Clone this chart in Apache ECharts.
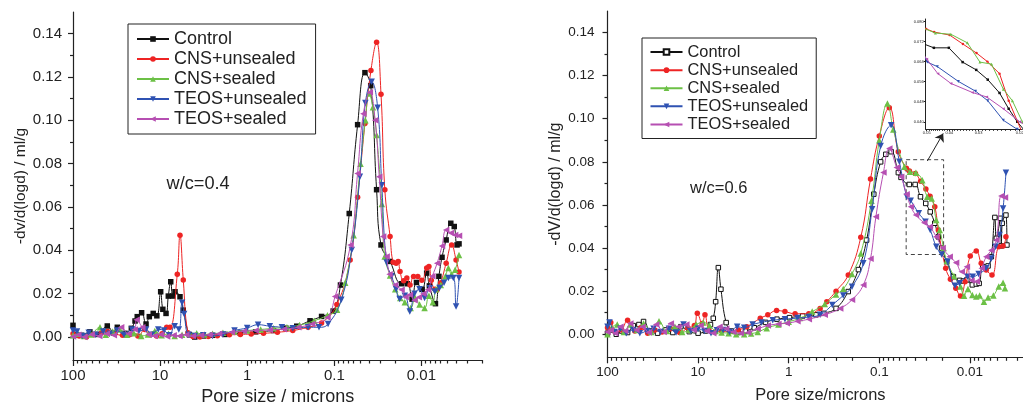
<!DOCTYPE html>
<html><head><meta charset="utf-8">
<script src="https://cdn.jsdelivr.net/npm/echarts@6/dist/echarts.min.js"></script>
<style>html,body{margin:0;padding:0;background:#fff}#c{width:1023px;height:402px}</style>
</head><body><div id="c"></div>
<script>
// ---------- labels / ticks ----------
const seriesNames = ['Control','CNS+unsealed','CNS+sealed','TEOS+unsealed','TEOS+sealed'];
const xMajorTicks = [100, 10, 1, 0.1, 0.01];
const yTickLabels = [0, 0.02, 0.04, 0.06, 0.08, 0.10, 0.12, 0.14];
const yMinorTicks = [0.01, 0.03, 0.05, 0.07, 0.09, 0.11, 0.13];
const insetXLabels = [0.05, 0.04, 0.03, 0.02];
const insetYLabels = [0.04, 0.048, 0.056, 0.064, 0.072, 0.08];
const panelTitles = ['w/c=0.4', 'w/c=0.6'];
const xMin = 0.002, xMax = 100;
// zoom window shown in the inset (pore size, dV/dlogd)
const insetWindow = {dHi: 0.0505, dLo: 0.0195, vLo: 0.037, vHi: 0.081};
const arrowFrom = [0.0295, 0.0804], arrowTo = [0.0197, 0.0932];

// ---------- data: [pore size (microns), -dV/d(logd) (ml/g)] ----------
const wc4Control = [[100,0.0054],[92,0.001],[80,0.0008],[64,0.0024],[53,0.0012],[40.4,0.0051],[34,0.0018],[31,0.0045],[25.3,0.0017],[21.4,0.004],[19.4,0.0074],[18.3,0.0094],[16.3,0.0112],[14.5,0.006],[13.3,0.0094],[12,0.0109],[10.9,0.0098],[9.85,0.0209],[9.3,0.0128],[8.55,0.0109],[8.05,0.0189],[7.55,0.0255],[7.16,0.0189],[6.74,0.0209],[5.91,0.0186],[5.42,0.0124],[4.6,0.001],[4,0],[3.2,0.0005],[2.5,0.0008],[1.8,0.0012],[1.2,0.0018],[0.8,0.0024],[0.5,0.003],[0.36,0.0041],[0.27,0.005],[0.19,0.0075],[0.14,0.0095],[0.103,0.012],[0.085,0.024],[0.0674,0.057],[0.054,0.098],[0.0445,0.122],[0.0382,0.116],[0.0327,0.068],[0.0291,0.0425],[0.0229,0.0349],[0.0169,0.0246],[0.0145,0.0246],[0.0128,0.0175],[0.0114,0.0252],[0.0098,0.022],[0.0087,0.0295],[0.0081,0.0236],[0.0069,0.0154],[0.0063,0.028],[0.0058,0.0368],[0.0052,0.0448],[0.0046,0.0525],[0.0042,0.051],[0.0039,0.0425],[0.0037,0.043]];
const wc4CnsUnsealed = [[100,0.0015],[85,0.0005],[70,0],[58,0.0012],[47,0.002],[40,0.0025],[33,0.0015],[27,0.0008],[22,0.0012],[18,0.0005],[15,0.0035],[13,0.001],[11,0.0005],[9.5,0.0015],[8.4,0.0045],[7.7,0.0045],[6.35,0.029],[5.91,0.047],[5.42,0.0263],[4.8,0.002],[4.2,0.0003],[3.5,0],[2.8,0.0003],[2.2,0.0006],[1.6,0.001],[1.2,0.0012],[0.9,0.0014],[0.65,0.0017],[0.45,0.0022],[0.3,0.003],[0.2,0.0045],[0.14,0.0065],[0.0935,0.015],[0.0658,0.0356],[0.054,0.0645],[0.0445,0.0986],[0.038,0.123],[0.0327,0.136],[0.0291,0.112],[0.0263,0.068],[0.0229,0.0464],[0.0211,0.0345],[0.0195,0.034],[0.0185,0.0348],[0.0176,0.0302],[0.016,0.026],[0.0147,0.0272],[0.0135,0.024],[0.0123,0.0279],[0.011,0.0279],[0.0099,0.0262],[0.0087,0.0318],[0.0082,0.0325],[0.0077,0.0262],[0.007,0.022],[0.0066,0.0218],[0.006,0.025],[0.0052,0.0341],[0.0045,0.0425],[0.004,0.0356],[0.0037,0.03]];
const wc4CnsSealed = [[100,0.0008],[88,0.0015],[75,0.0005],[62,0.0012],[49,0.0045],[42,0.001],[35,0.0025],[29,0.0035],[24,0.001],[20,0.0018],[16.5,0.0005],[13.8,0.0012],[11.5,0.0028],[9.6,0.0008],[8,0.0015],[6.8,0.0005],[5.6,0.001],[4.6,0.0015],[3.8,0.0018],[3.1,0.0012],[2.5,0.0015],[1.9,0.002],[1.4,0.0025],[1,0.003],[0.7,0.0035],[0.5,0.004],[0.35,0.0045],[0.25,0.0055],[0.17,0.0075],[0.12,0.01],[0.093,0.0126],[0.075,0.025],[0.06,0.047],[0.05,0.08],[0.044,0.1],[0.04,0.1124],[0.036,0.106],[0.0327,0.0932],[0.0285,0.0614],[0.0264,0.0372],[0.0229,0.0284],[0.02,0.022],[0.0175,0.018],[0.0155,0.016],[0.0133,0.0134],[0.0118,0.018],[0.0105,0.015],[0.0092,0.0134],[0.0082,0.019],[0.0074,0.016],[0.0068,0.022],[0.006,0.024],[0.0053,0.028],[0.0049,0.0318],[0.0045,0.029],[0.0041,0.031],[0.0037,0.0379]];
const wc4TeosUnsealed = [[100,0.003],[90,0.0025],[78,0.0005],[66,0.002],[55,0.001],[45,0.0025],[38,0.0015],[31,0.003],[26,0.001],[21,0.0035],[17.5,0.0028],[14.5,0.0035],[12.5,0.001],[10.5,0.0035],[9,0.003],[7.8,0.0008],[6.8,0.005],[6.1,0.0035],[5.6,0.0158],[5.3,0.0106],[4.7,0.001],[4,0.0005],[3.2,0.0008],[2.5,0.0005],[1.9,0.0012],[1.4,0.003],[1,0.0042],[0.75,0.0057],[0.55,0.005],[0.4,0.0045],[0.3,0.004],[0.2,0.0045],[0.15,0.0045],[0.118,0.006],[0.0831,0.0172],[0.0631,0.0402],[0.0509,0.074],[0.044,0.108],[0.0373,0.1178],[0.0318,0.1058],[0.0285,0.07],[0.0251,0.0344],[0.022,0.028],[0.0195,0.022],[0.0178,0.0175],[0.0155,0.019],[0.0136,0.0118],[0.012,0.02],[0.0105,0.022],[0.0092,0.018],[0.008,0.0225],[0.007,0.021],[0.0062,0.0226],[0.0055,0.025],[0.0049,0.0272],[0.0043,0.0272],[0.004,0.0141],[0.0037,0.0272]];
const wc4TeosSealed = [[100,0.0003],[87,0.001],[74,0],[61,0.0012],[50,0.0005],[41,0.0015],[34,0.0008],[28,0.0045],[23,0.0015],[19.5,0.0035],[18.6,0.008],[16,0.0045],[13.5,0.0012],[11.5,0.0005],[9.8,0.0012],[8.3,0.0003],[7,0.0008],[6,0.0005],[5,0.001],[4.2,0.0005],[3.4,0.0008],[2.7,0.001],[2.1,0.0015],[1.5,0.0022],[1.1,0.0027],[0.8,0.003],[0.55,0.0033],[0.38,0.0036],[0.26,0.0045],[0.18,0.006],[0.12,0.009],[0.098,0.0187],[0.0652,0.0425],[0.0541,0.0755],[0.0464,0.103],[0.0391,0.113],[0.034,0.1],[0.0305,0.074],[0.0275,0.0464],[0.0251,0.0372],[0.0232,0.029],[0.02,0.024],[0.0169,0.0218],[0.0152,0.0185],[0.0136,0.0195],[0.012,0.017],[0.0107,0.0184],[0.0095,0.02],[0.0084,0.0218],[0.0075,0.028],[0.0066,0.0341],[0.0058,0.042],[0.0052,0.0494],[0.0046,0.048],[0.0041,0.0471],[0.0037,0.0467]];

const wc6Control = [[100,0.0005],[90,0.002],[80,0],[70,0.0015],[60,0.0008],[52,0.004],[45,0.0045],[40,0.0059],[34,0.0015],[28,0.0005],[23,0.002],[19,0.0008],[15.5,0.0035],[12.5,0.0012],[10,0.0005],[8.3,0.0015],[7.3,0.0045],[6.8,0.0074],[6.4,0.0151],[5.98,0.0309],[5.6,0.0209],[4.9,0.0054],[4.3,0.0015],[3.6,0.0008],[3,0.0015],[2.4,0.003],[1.8,0.0055],[1.35,0.007],[0.98,0.0077],[0.7,0.0085],[0.5,0.009],[0.41,0.0097],[0.3,0.012],[0.22,0.0198],[0.17,0.03],[0.138,0.0437],[0.115,0.065],[0.0966,0.08],[0.0847,0.0835],[0.074,0.0847],[0.0616,0.075],[0.0576,0.0728],[0.0466,0.0695],[0.0402,0.0695],[0.0351,0.0638],[0.0307,0.0607],[0.0274,0.0568],[0.0244,0.0515],[0.0223,0.0452],[0.0205,0.04],[0.018,0.0337],[0.0152,0.0267],[0.013,0.025],[0.0118,0.0247],[0.0108,0.0252],[0.0094,0.0229],[0.0085,0.0233],[0.0079,0.0236],[0.0072,0.0314],[0.0063,0.0317],[0.0058,0.036],[0.0053,0.0542],[0.0051,0.0445],[0.0046,0.0538],[0.0045,0.041],[0.0044,0.0515],[0.004,0.0553],[0.0039,0.0414]];
const wc6CnsUnsealed = [[100,0.003],[92,0.0055],[82,0.001],[70,0.002],[60,0.0065],[50,0.0015],[43,0.003],[36,0.0005],[30,0.002],[25,0.001],[20,0.0025],[16,0.0008],[13,0.003],[11,0.004],[10.2,0.0097],[9,0.005],[8.4,0.009],[7.6,0.002],[6.5,0.001],[5.5,0.0015],[4.5,0.001],[3.6,0.002],[2.9,0.0035],[2.06,0.0074],[1.7,0.009],[1.36,0.011],[1.1,0.0105],[0.85,0.0095],[0.6,0.0095],[0.45,0.012],[0.38,0.0151],[0.3,0.02],[0.22,0.0275],[0.16,0.045],[0.125,0.072],[0.1,0.092],[0.0775,0.1051],[0.0617,0.0847],[0.0502,0.077],[0.0465,0.0758],[0.0399,0.0746],[0.035,0.071],[0.0306,0.0674],[0.0275,0.064],[0.0244,0.0592],[0.0223,0.0484],[0.0185,0.0306],[0.0164,0.0255],[0.0143,0.0213],[0.0127,0.0178],[0.0113,0.0244],[0.0099,0.0363],[0.0085,0.0386],[0.0075,0.033],[0.0066,0.0298],[0.0057,0.0275],[0.0048,0.0406],[0.0043,0.041],[0.004,0.0452]];
const wc6CnsSealed = [[100,0],[90,0.003],[78,0.0045],[66,0.001],[56,0.0045],[47,0.002],[40,0.005],[33,0.001],[27,0.006],[22,0.0015],[18,0.0035],[15,0.001],[12.5,0.002],[10.5,0.0045],[8.8,0.0055],[7.5,0.004],[6.4,0.0015],[5.5,0.0008],[4.6,0.0005],[3.8,0],[3.1,0],[2.6,0.0003],[2.2,0.001],[1.75,0.0028],[1.3,0.0045],[1,0.0058],[0.75,0.0075],[0.55,0.0105],[0.4,0.014],[0.3,0.0185],[0.25,0.021],[0.2,0.028],[0.16,0.0375],[0.122,0.062],[0.1,0.09],[0.0813,0.1071],[0.07,0.095],[0.0528,0.0777],[0.0459,0.0754],[0.0394,0.0749],[0.0335,0.0715],[0.0296,0.0638],[0.0264,0.063],[0.0235,0.053],[0.0215,0.0484],[0.0195,0.04],[0.018,0.034],[0.015,0.027],[0.0127,0.0221],[0.0116,0.0179],[0.0105,0.021],[0.0094,0.0182],[0.0085,0.0175],[0.0078,0.018],[0.007,0.0151],[0.0063,0.0171],[0.0055,0.018],[0.0048,0.0221],[0.0043,0.0239],[0.0041,0.0213]];
const wc6TeosUnsealed = [[100,0.0035],[95,0.0055],[84,0.001],[72,0.0025],[62,0.0005],[52,0.002],[44,0.0005],[37,0.0015],[31,0.0025],[26,0.001],[21,0.0025],[17.5,0.0008],[14.5,0.0045],[12,0.0015],[10,0.0025],[8.5,0.0015],[7.2,0.0005],[6.2,0.0018],[5.3,0.002],[4.5,0.001],[3.7,0.0035],[3.1,0.003],[2.5,0.0045],[2,0.0055],[1.5,0.0065],[1.1,0.007],[0.8,0.0075],[0.6,0.008],[0.45,0.009],[0.33,0.0136],[0.25,0.018],[0.2,0.022],[0.15,0.033],[0.12,0.058],[0.0966,0.0873],[0.074,0.097],[0.06,0.08],[0.0497,0.0638],[0.045,0.062],[0.0366,0.0561],[0.0309,0.0522],[0.0274,0.0484],[0.0235,0.0406],[0.0205,0.037],[0.0176,0.0337],[0.0146,0.0225],[0.013,0.0237],[0.0106,0.0267],[0.0093,0.0267],[0.008,0.028],[0.0066,0.0306],[0.0058,0.0352],[0.0052,0.0406],[0.0047,0.046],[0.0043,0.0584],[0.004,0.0749]];
const wc6TeosSealed = [[100,0.001],[92,0.002],[82,0.0005],[72,0.0035],[64,0.0015],[56,0.005],[48,0.002],[41,0.0035],[35,0.0008],[29,0.0045],[24,0.001],[20,0.005],[16.5,0.0035],[13.5,0.0045],[11.2,0.002],[9.4,0.004],[8,0.0015],[6.8,0.0005],[5.8,0.0035],[4.9,0.0025],[4.1,0.001],[3.4,0.0005],[2.8,0.0008],[2.2,0.0025],[1.7,0.004],[1.3,0.0048],[1.05,0.0051],[0.8,0.006],[0.6,0.007],[0.4,0.009],[0.27,0.012],[0.2,0.016],[0.15,0.0229],[0.125,0.035],[0.109,0.0545],[0.09,0.075],[0.0775,0.0862],[0.0642,0.0774],[0.0573,0.0731],[0.05,0.065],[0.0448,0.0592],[0.0394,0.0553],[0.0319,0.0517],[0.0277,0.0499],[0.0235,0.0452],[0.02,0.04],[0.0167,0.036],[0.0142,0.0332],[0.0123,0.029],[0.0108,0.0313],[0.0096,0.0249],[0.0084,0.0245],[0.0074,0.0306],[0.0066,0.036],[0.0058,0.039],[0.0051,0.0437],[0.0045,0.0641],[0.0041,0.0635]];

const wc4Data = [wc4Control, wc4CnsUnsealed, wc4CnsSealed, wc4TeosUnsealed, wc4TeosSealed];
const wc6Data = [wc6Control, wc6CnsUnsealed, wc6CnsSealed, wc6TeosUnsealed, wc6TeosSealed];

// ---------- styling ----------
const FONT = 'Liberation Sans, Arial, Helvetica, sans-serif';
const INK = '#222';
const colors = ['#111111', '#ee2424', '#6cc046', '#2f52b2', '#b64fb2'];
const symbols = ['rect', 'circle', 'triangle', 'triangle', 'triangle'];
const rotations = [0, 0, 0, 180, 90];
const sizes = [5.5, 5.5, 6.5, 6.5, 6.5];

const T = d => Math.log10(d);
const toXY = arr => arr.map(p => [T(p[0]), p[1]]);
const fmtPow = v => String(+Math.pow(10, v).toPrecision(3));

const xMinor = [];
[1, 0, -1, -2, -3].forEach(e => { for (let k = 2; k <= 9; k++) { const d = k * Math.pow(10, e); if (d >= xMin && d < xMax) xMinor.push(T(d)); } });
const insetXMinor = [];
for (let k = 21; k <= 50; k++) insetXMinor.push(T(k / 1000));

function axisPair(kind, grid, cfg) {
  const isX = kind === 'x';
  const base = {
    gridIndex: grid, type: 'value', min: cfg.min, max: cfg.max, inverse: !!cfg.inverse,
    position: isX ? 'bottom' : 'left', splitLine: {show: false}
  };
  const major = Object.assign({}, base, {
    axisLine: {show: true, onZero: false, lineStyle: {color: INK, width: cfg.lw || 1.2}},
    axisTick: {show: true, customValues: cfg.major, length: cfg.tickLen, lineStyle: {color: INK, width: cfg.lw || 1.2}},
    axisLabel: {show: true, customValues: cfg.labels || cfg.major, formatter: cfg.fmt, fontFamily: FONT, fontSize: cfg.fs, color: INK, margin: cfg.margin},
    name: cfg.name || '', nameLocation: 'middle', nameGap: cfg.nameGap || 0,
    nameTextStyle: {fontFamily: FONT, fontSize: cfg.nameFs || 12, color: INK}
  });
  const minor = Object.assign({}, base, {
    axisLine: {show: false, onZero: false},
    axisTick: {show: true, customValues: cfg.minor, length: cfg.minorLen, lineStyle: {color: INK, width: cfg.lw || 1.2}},
    axisLabel: {show: false}
  });
  return [major, minor];
}

const xAxes = [].concat(
  axisPair('x', 0, {min: T(xMin), max: T(xMax), inverse: true, major: xMajorTicks.map(T), minor: xMinor, tickLen: 6, minorLen: 3.5, fmt: fmtPow, fs: 15, margin: 8, name: 'Pore size / microns', nameGap: 25, nameFs: 18}),
  axisPair('x', 1, {min: T(xMin), max: T(xMax), inverse: true, major: xMajorTicks.map(T), minor: xMinor, tickLen: 6, minorLen: 3.5, fmt: fmtPow, fs: 13.5, margin: 8, name: 'Pore size/microns', nameGap: 30, nameFs: 16.4}),
  axisPair('x', 2, {min: T(insetWindow.dLo), max: T(insetWindow.dHi), inverse: true, major: insetXLabels.map(T), minor: insetXMinor, tickLen: 2, minorLen: 1.5, fmt: fmtPow, fs: 4, margin: 2, lw: 1})
);
const yFmt = v => v.toFixed(2);
const yAxes = [].concat(
  axisPair('y', 0, {min: -0.0106, max: 0.15, major: yTickLabels, minor: yMinorTicks, tickLen: 5, minorLen: 3, fmt: yFmt, fs: 15, margin: 11, name: '-dv/d(logd) / ml/g', nameGap: 43, nameFs: 15.5}),
  axisPair('y', 1, {min: -0.0107, max: 0.15, major: yTickLabels, minor: yMinorTicks, tickLen: 5, minorLen: 3, fmt: yFmt, fs: 13.5, margin: 13, name: '-dV/d(logd) / ml/g', nameGap: 44, nameFs: 16.1}),
  axisPair('y', 2, {min: insetWindow.vLo, max: insetWindow.vHi, major: insetYLabels, minor: [], tickLen: 2, minorLen: 0, fmt: v => v.toFixed(3), fs: 4, margin: 2, lw: 1})
);

const series = [];
function addPanel(dataList, axisIdx, suffix, opts) {
  dataList.forEach((arr, i) => {
    const openCtrl = opts.emptyControl && i === 0;
    series.push({
      type: 'line', name: seriesNames[i] + suffix,
      xAxisIndex: axisIdx, yAxisIndex: axisIdx,
      data: toXY(arr), smooth: opts.smooth, clip: true,
      symbol: symbols[i], symbolRotate: rotations[i],
      symbolSize: openCtrl ? 4.5 : opts.symScale * sizes[i], showSymbol: true,
      lineStyle: {color: colors[i], width: opts.lw},
      itemStyle: openCtrl ? {color: '#ffffff', borderColor: colors[i], borderWidth: 1} : {color: colors[i], borderWidth: 0},
      emphasis: {disabled: true}, z: 2 + i
    });
  });
}
addPanel(wc4Data, 0, '', {smooth: 0.45, lw: 1, symScale: 1});
addPanel(wc6Data, 2, '|b', {smooth: 0.45, lw: 1, symScale: 1, emptyControl: true});
addPanel(wc6Data, 4, '|c', {smooth: 0, lw: 1, symScale: 0.45, emptyControl: false});

// zoom box + arrow on the right panel
series[5].markArea = {
  silent: true,
  itemStyle: {color: 'rgba(0,0,0,0)', borderColor: '#444', borderWidth: 1, borderType: [4, 3]},
  data: [[{coord: [T(insetWindow.dHi), insetWindow.vHi]}, {coord: [T(insetWindow.dLo), insetWindow.vLo]}]]
};
series[5].markLine = {
  silent: true, symbol: ['none', 'arrow'], symbolSize: 8, label: {show: false},
  lineStyle: {color: INK, width: 1, type: 'solid'},
  data: [[{coord: [T(arrowFrom[0]), arrowFrom[1]]}, {coord: [T(arrowTo[0]), arrowTo[1]]}]]
};

const legendBase = {
  orient: 'vertical', itemGap: 0, itemWidth: 32, itemHeight: 7,
  borderColor: INK, borderWidth: 1, backgroundColor: '#fff',
  formatter: n => n.split('|')[0], selectedMode: false
};

const option = {
  animation: false,
  backgroundColor: '#fff',
  textStyle: {fontFamily: FONT},
  grid: [
    {left: 73, top: 12, width: 409.3, height: 348, outerBoundsMode: 'none', containLabel: false},
    {left: 607.5, top: 11, width: 425.7, height: 346.3, outerBoundsMode: 'none', containLabel: false},
    {left: 925.7, top: 19, width: 96.6, height: 110.3, outerBoundsMode: 'none', containLabel: false}
  ],
  xAxis: xAxes,
  yAxis: yAxes,
  legend: [
    Object.assign({}, legendBase, {left: 128, top: 24, padding: [5, 9, 5, 8],
      data: seriesNames.slice(), textStyle: {fontFamily: FONT, fontSize: 18, lineHeight: 20, color: INK}}),
    Object.assign({}, legendBase, {left: 642, top: 38, padding: [5, 8, 5, 7.5],
      data: seriesNames.map(n => n + '|b'), textStyle: {fontFamily: FONT, fontSize: 16.4, lineHeight: 18.1, color: INK}})
  ],
  graphic: [
    {type: 'text', left: 166.5, top: 174.5, style: {text: panelTitles[0], font: '18.2px ' + FONT, fill: INK}},
    {type: 'text', left: 690, top: 179.5, style: {text: panelTitles[1], font: '16.5px ' + FONT, fill: INK}}
  ],
  series: series
};

const chart = echarts.init(document.getElementById('c'), null, {renderer: 'canvas'});
chart.setOption(option);
</script>
</body></html>
